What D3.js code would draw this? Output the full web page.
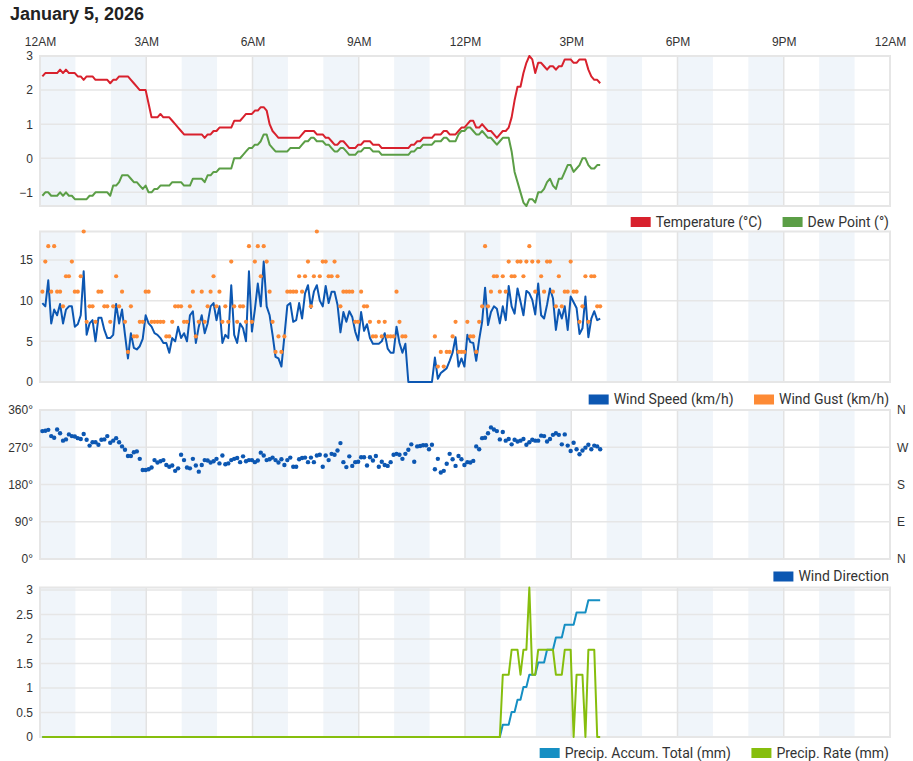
<!DOCTYPE html>
<html>
<head>
<meta charset="utf-8">
<script src="https://cdn.jsdelivr.net/npm/d3@7"></script>
<style>
  body { margin: 0; background: #fff; }
  svg { display: block; }
  .tick text { font-family: "Liberation Sans", Arial, sans-serif; font-size: 12px; fill: #333; }
  .legend text { font-family: Roboto, "Noto Sans", sans-serif; font-size: 14px; fill: #333; }
</style>
</head>
<body>
<svg id="chart" width="913" height="761"></svg>
<script>
// 5-minute readings, first one at 00:04
const startMin = 4;
const stepMin = 5;

const hourLabels = ['12AM', '3AM', '6AM', '9AM', '12PM', '3PM', '6PM', '9PM', '12AM'];

const temperature = [
  2.4, 2.5, 2.5, 2.5, 2.5, 2.5, 2.6, 2.5, 2.6, 2.5,
  2.5, 2.5, 2.4, 2.4, 2.3, 2.4, 2.4, 2.4, 2.3, 2.3,
  2.3, 2.3, 2.3, 2.2, 2.3, 2.3, 2.4, 2.4, 2.4, 2.4,
  2.3, 2.2, 2.1, 2.0, 2.0, 2.0, 1.6, 1.2, 1.2, 1.2,
  1.3, 1.2, 1.2, 1.2, 1.1, 1.0, 0.9, 0.8, 0.7, 0.7,
  0.7, 0.7, 0.7, 0.7, 0.7, 0.6, 0.7, 0.7, 0.8, 0.8,
  0.9, 0.9, 0.9, 0.9, 0.9, 1.1, 1.1, 1.1, 1.2, 1.3,
  1.3, 1.3, 1.4, 1.4, 1.5, 1.5, 1.4, 1.0, 0.8, 0.7,
  0.6, 0.6, 0.6, 0.6, 0.6, 0.6, 0.6, 0.6, 0.7, 0.8,
  0.8, 0.8, 0.8, 0.7, 0.7, 0.7, 0.6, 0.6, 0.5, 0.4,
  0.4, 0.5, 0.5, 0.4, 0.3, 0.3, 0.3, 0.4, 0.4, 0.5,
  0.5, 0.5, 0.4, 0.4, 0.4, 0.3, 0.3, 0.3, 0.3, 0.3,
  0.3, 0.3, 0.3, 0.3, 0.3, 0.4, 0.4, 0.5, 0.5, 0.6,
  0.6, 0.6, 0.6, 0.7, 0.7, 0.7, 0.8, 0.8, 0.7, 0.7,
  0.7, 0.8, 0.9, 0.9, 1.0, 1.1, 1.1, 0.9, 0.9, 1.0,
  0.9, 0.8, 0.8, 0.7, 0.6, 0.7, 0.8, 0.8, 0.9, 1.2,
  1.7, 2.1, 2.1, 2.5, 2.8, 3.0, 2.9, 2.5, 2.8, 2.8,
  2.7, 2.6, 2.7, 2.7, 2.6, 2.7, 2.7, 2.9, 2.9, 2.9,
  2.8, 2.8, 2.9, 2.9, 2.9, 2.6, 2.4, 2.3, 2.3, 2.2
];

const dewPoint = [
  -1.1, -1.0, -1.0, -1.1, -1.1, -1.1, -1.0, -1.1, -1.0, -1.1,
  -1.1, -1.2, -1.2, -1.2, -1.2, -1.2, -1.1, -1.1, -1.0, -1.0,
  -1.0, -1.0, -1.0, -1.1, -0.8, -0.8, -0.7, -0.5, -0.5, -0.5,
  -0.6, -0.7, -0.7, -0.8, -0.9, -0.8, -1.0, -1.0, -0.9, -0.9,
  -0.8, -0.8, -0.8, -0.8, -0.7, -0.7, -0.7, -0.7, -0.8, -0.8,
  -0.8, -0.6, -0.6, -0.6, -0.6, -0.7, -0.5, -0.5, -0.4, -0.4,
  -0.3, -0.3, -0.3, -0.3, -0.3, 0.0, 0.0, 0.0, 0.1, 0.2,
  0.3, 0.3, 0.4, 0.4, 0.5, 0.7, 0.7, 0.4, 0.3, 0.2,
  0.2, 0.2, 0.2, 0.2, 0.3, 0.3, 0.3, 0.3, 0.4, 0.5,
  0.5, 0.6, 0.6, 0.5, 0.5, 0.5, 0.4, 0.4, 0.3, 0.2,
  0.2, 0.3, 0.3, 0.2, 0.1, 0.1, 0.1, 0.2, 0.2, 0.3,
  0.3, 0.3, 0.2, 0.2, 0.2, 0.1, 0.1, 0.1, 0.1, 0.1,
  0.1, 0.1, 0.1, 0.1, 0.1, 0.2, 0.2, 0.3, 0.3, 0.4,
  0.4, 0.4, 0.4, 0.5, 0.5, 0.5, 0.6, 0.6, 0.5, 0.5,
  0.5, 0.7, 0.8, 0.8, 0.9, 0.9, 0.8, 0.7, 0.7, 0.8,
  0.7, 0.6, 0.6, 0.5, 0.4, 0.5, 0.6, 0.6, 0.6, 0.2,
  -0.4, -0.7, -1.0, -1.3, -1.4, -1.2, -1.2, -1.3, -1.0, -1.0,
  -0.9, -0.7, -0.6, -0.8, -0.9, -0.6, -0.6, -0.4, -0.2, -0.2,
  -0.4, -0.3, -0.2, 0.0, 0.0, -0.2, -0.3, -0.3, -0.2, -0.2
];

const windSpeed = [
  9.7, 9.3, 12.5, 7.2, 8.9, 8.2, 9.6, 7.2, 8.9, 9.3,
  9.3, 6.8, 7.1, 8.2, 13.6, 5.8, 7.2, 7.6, 5.0, 7.9,
  7.9, 6.4, 5.4, 5.4, 5.8, 9.6, 7.2, 8.9, 5.8, 2.9,
  6.0, 4.2, 4.0, 4.4, 5.3, 8.2, 7.2, 6.8, 6.0, 5.8,
  5.4, 4.8, 4.8, 3.6, 5.4, 5.0, 6.8, 5.4, 6.0, 5.0,
  8.2, 8.7, 4.8, 6.8, 8.2, 6.0, 7.2, 9.3, 9.7, 7.6,
  9.3, 4.8, 5.8, 5.4, 11.9, 5.8, 4.8, 7.2, 6.6, 5.0,
  13.6, 6.2, 8.9, 12.1, 9.3, 14.8, 9.3, 8.2, 5.8, 3.1,
  2.9, 1.9, 5.6, 9.4, 9.7, 7.4, 7.6, 9.7, 7.8, 10.9,
  11.9, 9.1, 11.1, 11.9, 10.0, 9.3, 11.8, 9.7, 11.1, 11.1,
  9.5, 6.1, 8.6, 7.4, 8.7, 8.0, 6.2, 5.1, 8.6, 6.3,
  7.1, 5.4, 4.7, 4.7, 4.7, 5.0, 6.0, 4.1, 3.6, 3.6,
  6.8, 4.8, 3.6, 4.7, 0, 0, 0, 0, 0, 0,
  0, 0, 0, 3.0, 0.4, 1.1, 1.4, 1.7, 2.6, 3.6,
  5.5, 1.9, 2.9, 1.9, 5.8, 4.9, 4.8, 2.6, 5.2, 7.4,
  11.6, 7.0, 8.6, 9.3, 9.0, 7.2, 9.3, 7.6, 11.8, 9.3,
  8.4, 11.5, 9.9, 8.2, 11.2, 10.9, 10.1, 8.3, 12.1, 8.2,
  7.8, 9.5, 11.5, 10.3, 6.4, 8.9, 7.8, 9.3, 6.4, 10.5,
  9.8, 9.1, 5.9, 6.6, 10.5, 5.5, 7.8, 8.7, 7.6, 7.8
];

// no gust reported while the wind was calm
const windGust = [
  11.1, 14.8, 16.7, 11.1, 16.7, 11.1, 11.1, 9.3, 13.0, 13.0,
  14.8, 11.1, 11.1, 13.0, 18.5, 7.4, 9.3, 9.3, 7.4, 11.1,
  11.1, 9.3, 9.3, 7.4, 9.3, 13.0, 9.3, 11.1, 7.4, 3.7,
  9.3, 5.6, 5.6, 7.4, 7.4, 11.1, 11.1, 7.4, 7.4, 7.4,
  7.4, 7.4, 5.6, 5.6, 7.4, 9.3, 9.3, 9.3, 7.4, 7.4,
  9.3, 11.1, 5.6, 7.4, 11.1, 7.4, 9.3, 11.1, 13.0, 9.3,
  11.1, 7.4, 9.3, 7.4, 14.8, 9.3, 7.4, 9.3, 9.3, 7.4,
  16.7, 7.4, 14.8, 16.7, 13.0, 16.7, 14.8, 11.1, 7.4, 3.7,
  5.6, 3.7, 5.6, 11.1, 11.1, 11.1, 11.1, 13.0, 11.1, 13.0,
  14.8, 9.3, 13.0, 18.5, 13.0, 14.8, 14.8, 13.0, 13.0, 14.8,
  13.0, 9.3, 11.1, 11.1, 11.1, 11.1, 7.4, 7.4, 11.1, 9.3,
  9.3, 7.4, 5.6, 5.6, 7.4, 5.6, 7.4, 5.6, 5.6, 5.6,
  11.1, 7.4, 5.6, 5.6, null, null, null, null, null, null,
  null, null, null, 5.6, 1.9, 3.7, 1.9, 3.7, 3.7, 5.6,
  7.4, 3.7, 3.7, 3.7, 7.4, 5.6, 5.6, 3.7, 7.4, 9.3,
  16.7, 9.3, 11.1, 13.0, 13.0, 11.1, 13.0, 11.1, 14.8, 13.0,
  13.0, 14.8, 14.8, 13.0, 14.8, 16.7, 14.8, 11.1, 14.8, 13.0,
  11.1, 14.8, 14.8, 11.1, 9.3, 13.0, 9.3, 11.1, 11.1, 14.8,
  11.1, 11.1, 7.4, 9.3, 13.0, 7.4, 13.0, 13.0, 9.3, 9.3
];

const windDirection = [
  309, 310, 312, 297, 293, 313, 304, 286, 289, 301,
  297, 296, 292, 290, 302, 288, 274, 282, 282, 276,
  288, 289, 297, 281, 286, 292, 282, 272, 264, 249,
  249, 258, 260, 242, 215, 215, 217, 221, 239, 233,
  236, 239, 227, 223, 226, 213, 219, 252, 239, 221,
  219, 242, 226, 211, 227, 239, 238, 233, 236, 242,
  231, 250, 229, 231, 239, 242, 244, 234, 248, 236,
  239, 239, 234, 238, 257, 250, 239, 241, 245, 239,
  233, 241, 227, 239, 245, 223, 223, 241, 244, 245,
  234, 245, 234, 250, 252, 223, 250, 239, 254, 252,
  262, 280, 234, 222, 248, 225, 234, 235, 246, 246,
  226, 246, 238, 249, 223, 235, 227, 225, 234, 252,
  254, 252, 242, 254, 264, 277, 235, 272, 273, 275,
  275, 265, 276, 217, 242, 209, 213, 230, 254, 241,
  225, 249, 241, 227, 234, 233, 237, 272, 265, 292,
  293, 304, 318, 313, 309, 289, 307, 286, 290, 277,
  288, 284, 286, 290, 276, 282, 288, 286, 286, 298,
  297, 284, 290, 300, 304, 300, 277, 301, 274, 261,
  281, 265, 253, 262, 269, 276, 265, 274, 272, 265
];

const precipTotal = [
  0, 0, 0, 0, 0, 0, 0, 0, 0, 0, 0, 0, 0, 0, 0, 0, 0, 0, 0, 0,
  0, 0, 0, 0, 0, 0, 0, 0, 0, 0, 0, 0, 0, 0, 0, 0, 0, 0, 0, 0,
  0, 0, 0, 0, 0, 0, 0, 0, 0, 0, 0, 0, 0, 0, 0, 0, 0, 0, 0, 0,
  0, 0, 0, 0, 0, 0, 0, 0, 0, 0, 0, 0, 0, 0, 0, 0, 0, 0, 0, 0,
  0, 0, 0, 0, 0, 0, 0, 0, 0, 0, 0, 0, 0, 0, 0, 0, 0, 0, 0, 0,
  0, 0, 0, 0, 0, 0, 0, 0, 0, 0, 0, 0, 0, 0, 0, 0, 0, 0, 0, 0,
  0, 0, 0, 0, 0, 0, 0, 0, 0, 0, 0, 0, 0, 0, 0, 0, 0, 0, 0, 0,
  0, 0, 0, 0, 0, 0, 0, 0, 0, 0, 0, 0, 0, 0, 0, 0,
  0.25, 0.25, 0.25, 0.51, 0.51, 0.76, 0.76, 1.02, 1.02, 1.27,
  1.27, 1.27, 1.52, 1.52, 1.52, 1.78, 1.78, 1.78, 2.03, 2.03,
  2.03, 2.29, 2.29, 2.29, 2.29, 2.54, 2.54, 2.54, 2.54, 2.79,
  2.79, 2.79, 2.79, 2.79
];

const precipRate = [
  0, 0, 0, 0, 0, 0, 0, 0, 0, 0, 0, 0, 0, 0, 0, 0, 0, 0, 0, 0,
  0, 0, 0, 0, 0, 0, 0, 0, 0, 0, 0, 0, 0, 0, 0, 0, 0, 0, 0, 0,
  0, 0, 0, 0, 0, 0, 0, 0, 0, 0, 0, 0, 0, 0, 0, 0, 0, 0, 0, 0,
  0, 0, 0, 0, 0, 0, 0, 0, 0, 0, 0, 0, 0, 0, 0, 0, 0, 0, 0, 0,
  0, 0, 0, 0, 0, 0, 0, 0, 0, 0, 0, 0, 0, 0, 0, 0, 0, 0, 0, 0,
  0, 0, 0, 0, 0, 0, 0, 0, 0, 0, 0, 0, 0, 0, 0, 0, 0, 0, 0, 0,
  0, 0, 0, 0, 0, 0, 0, 0, 0, 0, 0, 0, 0, 0, 0, 0, 0, 0, 0, 0,
  0, 0, 0, 0, 0, 0, 0, 0, 0, 0, 0, 0, 0, 0, 0, 0,
  1.27, 1.27, 1.27, 1.78, 1.78, 1.78, 1.27, 1.78, 1.78, 3.05,
  1.27, 1.27, 1.78, 1.78, 1.78, 1.78, 1.78, 1.78, 1.27, 1.27,
  1.27, 1.78, 1.78, 1.78, 0, 1.27, 1.27, 1.27, 0, 1.78,
  1.78, 1.78, 0, 0
];

const colors = {
    temp: '#d8212d',
    dew: '#5b9e46',
    wind: '#0c57b2',
    gust: '#fd8a35',
    dir: '#0c57b2',
    total: '#168fc3',
    rate: '#86be0d'
};

const svg = d3.select('#chart');
const left = 40, right = 890;

const x = d3.scaleLinear()
    .domain([0, 24 * 60])
    .range([left, right]);

const minuteOf = i => startMin + i * stepMin;

// Title
svg.append('text')
    .attr('x', 10)
    .attr('y', 20)
    .style('font-family', '"Liberation Sans", Arial, sans-serif')
    .style('font-size', '18px')
    .style('font-weight', 'bold')
    .style('fill', '#222')
    .text('January 5, 2026');

// Hour labels on top
const topAxis = svg.append('g')
    .attr('transform', 'translate(0,50)')
    .call(d3.axisTop(x)
        .tickValues(d3.range(0, 24 * 60 + 1, 180))
        .tickSize(0)
        .tickPadding(4)
        .tickFormat((d, i) => hourLabels[i]));
topAxis.select('.domain').remove();

// Panel frames: background bands, grid, axes
function drawPanel(top, bottom, domain, ticks, fmt) {
    const y = d3.scaleLinear().domain(domain).range([bottom, top]);
    const g = svg.append('g');

    // alternating hour bands
    g.selectAll('rect.band')
        .data(d3.range(0, 24, 2))
        .enter()
        .append('rect')
        .attr('x', d => x(d * 60))
        .attr('y', top)
        .attr('width', x(60) - x(0))
        .attr('height', bottom - top)
        .style('fill', '#f0f5fa');

    g.selectAll('line.hgrid')
        .data(ticks)
        .enter()
        .append('line')
        .attr('x1', left).attr('x2', right)
        .attr('y1', d => y(d)).attr('y2', d => y(d))
        .style('stroke', '#e6e6e6')
        .style('stroke-width', 1.5);

    g.selectAll('line.vgrid')
        .data(d3.range(180, 24 * 60, 180))
        .enter()
        .append('line')
        .attr('x1', d => x(d)).attr('x2', d => x(d))
        .attr('y1', top).attr('y2', bottom)
        .style('stroke', '#e3e3e3')
        .style('stroke-width', 1.5);

    g.append('rect')
        .attr('x', left).attr('y', top)
        .attr('width', right - left).attr('height', bottom - top)
        .style('fill', 'none')
        .style('stroke', '#e6e6e6')
        .style('stroke-width', 2);

    const axis = g.append('g')
        .attr('transform', `translate(${left},0)`)
        .call(d3.axisLeft(y).tickValues(ticks).tickSize(0).tickPadding(7).tickFormat(fmt));
    axis.select('.domain').remove();

    return y;
}

function drawLine(y, values, color) {
    const line = d3.line()
        .defined(d => d != null)
        .x((d, i) => x(minuteOf(i)))
        .y(d => y(d));
    svg.append('path')
        .datum(values)
        .attr('d', line)
        .style('fill', 'none')
        .style('stroke', color)
        .style('stroke-width', 2)
        .style('stroke-linejoin', 'round');
}

function drawDots(y, values, color, r) {
    svg.append('g')
        .selectAll('circle')
        .data(values.map((v, i) => ({ v, i })).filter(d => d.v != null))
        .enter()
        .append('circle')
        .attr('cx', d => x(minuteOf(d.i)))
        .attr('cy', d => y(d.v))
        .attr('r', r)
        .style('fill', color);
}

// Legend, right-aligned under each panel
function drawLegend(cy, items) {
    const g = svg.append('g').attr('class', 'legend');
    let xEnd = 889;
    items.slice().reverse().forEach(item => {
        const t = g.append('text')
            .attr('y', cy)
            .attr('dy', '0.35em')
            .text(item.label);
        const w = t.node().getComputedTextLength();
        t.attr('x', xEnd - w);
        g.append('rect')
            .attr('x', xEnd - w - 25)
            .attr('y', cy - 5)
            .attr('width', 20)
            .attr('height', 10)
            .style('fill', item.color);
        xEnd = xEnd - w - 25 - 20.5;
    });
}

// Temperature / dew point
const yTemp = drawPanel(56, 206, [-1.4, 3], [-1, 0, 1, 2, 3], d3.format('d'));
drawLine(yTemp, temperature, colors.temp);
drawLine(yTemp, dewPoint, colors.dew);
drawLegend(222, [
    { label: 'Temperature (°C)', color: colors.temp },
    { label: 'Dew Point (°)', color: colors.dew }
]);

// Wind speed / gust
const yWind = drawPanel(231.5, 382, [0, 18.5], [0, 5, 10, 15], d3.format('d'));
drawLine(yWind, windSpeed, colors.wind);
drawDots(yWind, windGust, colors.gust, 2.1);
drawLegend(399.5, [
    { label: 'Wind Speed (km/h)', color: colors.wind },
    { label: 'Wind Gust (km/h)', color: colors.gust }
]);

// Wind direction
const yDir = drawPanel(410, 559, [0, 360], [0, 90, 180, 270, 360], d => d + '°');
drawDots(yDir, windDirection, colors.dir, 2.2);
const compass = ['N', 'E', 'S', 'W', 'N'];
const rightAxis = svg.append('g')
    .attr('transform', `translate(${right},0)`)
    .call(d3.axisRight(yDir).tickValues([0, 90, 180, 270, 360]).tickSize(0).tickPadding(7)
        .tickFormat((d, i) => compass[i]));
rightAxis.select('.domain').remove();
drawLegend(576.5, [
    { label: 'Wind Direction', color: colors.dir }
]);

// Precipitation
const yRain = drawPanel(587.5, 737, [0, 3.05], [0, 0.5, 1, 1.5, 2, 2.5, 3], d3.format('~g'));
drawLine(yRain, precipTotal, colors.total);
drawLine(yRain, precipRate, colors.rate);
drawLegend(753, [
    { label: 'Precip. Accum. Total (mm)', color: colors.total },
    { label: 'Precip. Rate (mm)', color: colors.rate }
]);
</script>
</body>
</html>
